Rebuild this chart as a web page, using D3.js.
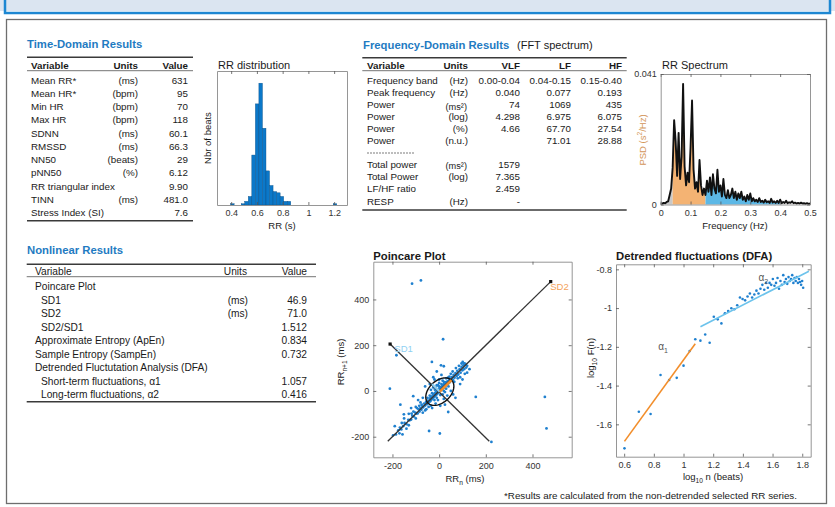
<!DOCTYPE html>
<html>
<head>
<meta charset="utf-8">
<script src="https://cdn.jsdelivr.net/npm/d3@7"></script>
<style>
body { margin: 0; background: #fff; }
svg { display: block; font-family: "Liberation Sans", Arial, sans-serif; }
</style>
</head>
<body>
<svg id="chart" width="835" height="507"></svg>
<script>
// ---- time domain table
var timeVars = ["Mean RR*", "Mean HR*", "Min HR", "Max HR", "SDNN", "RMSSD", "NN50", "pNN50", "RR triangular index", "TINN", "Stress Index (SI)"];
var timeUnits = ["(ms)", "(bpm)", "(bpm)", "(bpm)", "(ms)", "(ms)", "(beats)", "(%)", "", "(ms)", ""];
var timeValues = ["631", "95", "70", "118", "60.1", "66.3", "29", "6.12", "9.90", "481.0", "7.6"];

// ---- frequency domain table
var freqVars = ["Frequency band", "Peak frequency", "Power", "Power", "Power", "Power"];
var freqUnits = ["(Hz)", "(Hz)", "(ms\u00b2)", "(log)", "(%)", "(n.u.)"];
var vlfValues = ["0.00-0.04", "0.040", "74", "4.298", "4.66", ""];
var lfValues = ["0.04-0.15", "0.077", "1069", "6.975", "67.70", "71.01"];
var hfValues = ["0.15-0.40", "0.193", "435", "6.075", "27.54", "28.88"];
var totVars = ["Total power", "Total Power", "LF/HF ratio", "RESP"];
var totUnits = ["(ms\u00b2)", "(log)", "", "(Hz)"];
var totValues = ["1579", "7.365", "2.459", "-"];

// ---- nonlinear table
var nlVars = ["Poincare Plot", "SD1", "SD2", "SD2/SD1", "Approximate Entropy (ApEn)", "Sample Entropy (SampEn)",
	"Detrended Fluctutation Analysis (DFA)", "Short-term fluctuations, \u03b11", "Long-term fluctuations, \u03b12"];
var nlSub = [false, true, true, true, false, false, false, true, true];
var nlUnits = ["", "(ms)", "(ms)", "", "", "", "", "", ""];
var nlValues = ["", "46.9", "71.0", "1.512", "0.834", "0.732", "", "1.057", "0.416"];

// ---- RR histogram (bin left edge in s, count)
var rrBinWidth = 0.0275;
var rrBinLeft = [0.3955, 0.478, 0.5055, 0.533, 0.5605, 0.588, 0.6155, 0.643, 0.6705, 0.698, 0.7255, 0.753, 0.7805, 0.808, 0.8355, 1.193];
var rrBinCount = [1, 1, 3, 7, 41, 83, 100, 63, 28, 16, 11, 10, 7, 3, 3, 1];
var rrTicks = [0.4, 0.6, 0.8, 1, 1.2];

// ---- RR spectrum, PSD (s^2/Hz) sampled every 0.005 Hz from 0 to 0.5
var psdStep = 0.005;
var psdValues = [
	0.0003, 0.0003, 0.0005, 0.0004, 0.0008, 0.0010, 0.0030, 0.0050, 0.0115, 0.0265,
	0.0200, 0.0090, 0.0225, 0.0080, 0.0150, 0.0379, 0.0120, 0.0060, 0.0100, 0.0070,
	0.0180, 0.0327, 0.0110, 0.0050, 0.0070, 0.0040, 0.0140, 0.0060, 0.0030, 0.0050,
	0.0030, 0.0075, 0.0040, 0.0085, 0.0030, 0.0095, 0.0050, 0.0035, 0.0109, 0.0040,
	0.0060, 0.0025, 0.0080, 0.0030, 0.0020, 0.0045, 0.0020, 0.0030, 0.0050, 0.0020,
	0.0040, 0.0015, 0.0035, 0.0020, 0.0040, 0.0015, 0.0025, 0.0010, 0.0030, 0.0015,
	0.0035, 0.0010, 0.0020, 0.0010, 0.0015, 0.0008, 0.0020, 0.0008, 0.0012, 0.0006,
	0.0015, 0.0007, 0.0010, 0.0005, 0.0018, 0.0006, 0.0010, 0.0005, 0.0012, 0.0005,
	0.0015, 0.0004, 0.0008, 0.0005, 0.0012, 0.0004, 0.0007, 0.0005, 0.0010, 0.0004,
	0.0006, 0.0003, 0.0005, 0.0003, 0.0006, 0.0003, 0.0004, 0.0002, 0.0004, 0.0002,
	0.0003];
var bandNames = ["VLF", "LF", "HF"];
var bandLo = [0, 0.04, 0.15];
var bandHi = [0.04, 0.15, 0.40];
var specXTicks = [0, 0.1, 0.2, 0.3, 0.4, 0.5];
var specYTicks = [0, 0.041];

// ---- Poincare (RRn, RRn+1) in ms, centred
var poincarePts = [
	[-48,-42],[-44,-50],[-40,-34],[-38,-45],[-35,-28],[-33,-38],[-30,-24],[-28,-33],[-25,-18],[-24,-29],
	[-22,-14],[-20,-24],[-18,-10],[-16,-21],[-14,-6],[-12,-17],[-10,-2],[-8,-12],[-6,4],[-4,-8],
	[-2,8],[0,-3],[2,12],[4,2],[6,15],[8,5],[10,18],[12,8],[14,22],[16,12],[18,26],[20,15],[22,30],
	[24,20],[26,34],[28,24],[30,38],[33,28],[36,42],[39,33],[42,46],[45,38],[48,52],[52,45],
	[-52,-58],[-56,-48],[-60,-64],[-64,-55],[-20,-40],[-40,-20],[20,40],[40,20],[0,20],[20,0],
	[-10,-30],[-30,-10],[10,30],[30,10],[5,-18],[-18,5],[-5,25],[25,-5],
	[-68,-72],[-72,-66],[-76,-82],[-80,-75],[-84,-90],[-88,-80],[-92,-98],[-97,-99],[-102,-95],
	[-108,-112],[-115,-108],[-120,-125],[-126,-128],[-132,-126],[-140,-145],[-148,-140],[-154,-154],
	[-162,-168],[-168,-160],[-175,-172],[-185,-190],[-197,-194],[-60,-85],[-75,-60],[-85,-65],
	[-95,-75],[-55,-80],[-70,-95],[-110,-90],[-100,-120],[-45,-70],[-35,-65],[-130,-100],
	[55,60],[60,48],[62,70],[66,58],[70,78],[75,65],[78,88],[82,72],[88,95],[92,80],[96,105],
	[100,90],[104,112],[108,96],[112,118],[116,102],[120,110],[96,120],[85,110],[72,100],[58,85],
	[50,75],[44,62],[38,58],[65,40],[80,55],[110,75],[90,60],[30,55],[15,45],[0,35],[-10,25],
	[-25,15],[-35,5],
	[-40,30],[-60,20],[-20,50],[10,70],[-10,85],[50,0],[60,-15],[35,-20],[20,-35],[-5,-40],
	[-15,-55],[5,-65],[25,-60],[-30,-75],[-50,-30],[-70,-30],[-80,-50],[-90,-40],[-100,-70],
	[-120,-75],[-130,-150],[-150,-120],[-160,-140],[-170,-185],[-140,-165],[70,-30],[90,30],
	[100,50],[130,95],[120,80],[-25,60],[0,50],[15,-15],[-15,15],
	[-31,127],[8,112],[20,108],[101,127],[108,120],[-118,-99],
	[-116,469],[-78,483],[17,226],[-183,156],[-211,10],[-111,-23],[157,-26],[453,-26],[460,-164],
	[-166,-60],[-151,-102],[-43,-175],[3,-186],[224,-223],[-157,-190],[-190,-154],[39,-92]
];
var sd1 = 46.9, sd2 = 71.0;
var poincareCentre = [3, -3];
var identityLine = [[-220, -220], [478, 478]];
var perpLine = [[-210, 205], [215, -220]];
var poincareTicks = [-200, 0, 200, 400];

// ---- DFA
var dfaN = [4, 5, 6, 7, 8, 9, 10, 11, 12, 13, 14, 15, 16, 17, 18, 19, 20, 21, 22, 23, 24, 25, 26, 27, 28, 29, 30,
	31, 32, 33, 34, 35, 36, 37, 38, 39, 40, 41, 42, 43, 44, 45, 46, 47, 48, 49, 50, 51, 52, 53, 54, 55, 56, 57,
	58, 59, 60, 61, 62, 63, 64];
var dfaF = [-1.724, -1.535, -1.547, -1.345, -1.371, -1.360, -1.297, -1.222, -1.161, -1.168, -1.136, -1.179,
	-1.045, -1.058, -1.079, -1.027, -1.015, -1.001, -1.006, -0.985, -0.945, -0.953, -0.960, -0.940, -0.925,
	-0.945, -0.930, -0.910, -0.925, -0.900, -0.880, -0.905, -0.870, -0.895, -0.870, -0.880, -0.850, -0.885,
	-0.870, -0.845, -0.900, -0.860, -0.880, -0.830, -0.865, -0.850, -0.875, -0.840, -0.860, -0.850, -0.830,
	-0.870, -0.845, -0.860, -0.840, -0.870, -0.850, -0.865, -0.880, -0.860, -0.895];
var alpha1Fit = [[0.602, -1.688], [1.079, -1.184]];
var alpha2Fit = [[1.114, -1.096], [1.845, -0.810]];
var dfaXTicks = [0.6, 0.8, 1, 1.2, 1.4, 1.6, 1.8];
var dfaYTicks = [-1.6, -1.4, -1.2, -1, -0.8];

var footnote = "*Results are calculated from the non-detrended selected RR series.";

// ------------------------------------------------------------------
var svg = d3.select("#chart");
var titleBlue = "#1f7bc2", ink = "#1a1a1a";
var tableSize = 9.8, titleSize = 11.3, tickSize = 9;

function txt(g, x, y, s, o) {
	o = o || {};
	return g.append("text").attr("x", x).attr("y", y)
		.attr("font-size", o.size || tableSize)
		.attr("font-weight", o.bold ? "bold" : null)
		.attr("text-anchor", o.anchor || "start")
		.attr("fill", o.color || ink)
		.text(s);
}

// text with sub/superscript pieces: parts = [[str, "sub"|"sup"|null], ...]
function rich(g, x, y, parts, o) {
	o = o || {};
	var size = o.size || 9.5;
	var t = g.append("text").attr("font-size", size).attr("fill", o.color || ink)
		.attr("text-anchor", o.anchor || "middle");
	if (o.rotate) t.attr("transform", "translate(" + x + "," + y + ") rotate(-90)");
	else t.attr("x", x).attr("y", y);
	var shift = 0;
	parts.forEach(function(p) {
		var want = p[1] === "sub" ? size * 0.3 : p[1] === "sup" ? -size * 0.4 : 0;
		t.append("tspan").attr("dy", want - shift)
			.attr("font-size", p[1] ? size * 0.7 : size).text(p[0]);
		shift = want;
	});
	return t;
}

function rule(g, x0, x1, y, w) {
	g.append("line").attr("x1", x0).attr("x2", x1).attr("y1", y).attr("y2", y)
		.attr("stroke", "#3a3a3a").attr("stroke-width", w);
}

// matlab-like box axes, ticks inward on all sides
function boxAxes(g, x, y, xTicks, yTicks) {
	var xr = x.range(), yr = y.range();
	var fmt = function(d) { return String(d); };
	var bottom = g.append("g").attr("transform", "translate(0," + yr[0] + ")")
		.call(d3.axisBottom(x).tickValues(xTicks).tickSize(-3).tickSizeOuter(0).tickPadding(5).tickFormat(fmt));
	var top = g.append("g").attr("transform", "translate(0," + yr[1] + ")")
		.call(d3.axisTop(x).tickValues(xTicks).tickSize(-3).tickSizeOuter(0).tickFormat(""));
	var left = g.append("g").attr("transform", "translate(" + xr[0] + ",0)")
		.call(d3.axisLeft(y).tickValues(yTicks).tickSize(-3).tickSizeOuter(0).tickPadding(4).tickFormat(fmt));
	var right = g.append("g").attr("transform", "translate(" + xr[1] + ",0)")
		.call(d3.axisRight(y).tickValues(yTicks).tickSize(-3).tickSizeOuter(0).tickFormat(""));
	[bottom, top, left, right].forEach(function(a) {
		a.attr("font-family", null).attr("font-size", tickSize);
		a.select(".domain").attr("stroke", "#8a8a8a").attr("stroke-width", 0.9);
		a.selectAll(".tick line").attr("stroke", "#555").attr("stroke-width", 0.8);
		a.selectAll(".tick text").attr("fill", "#333");
	});
}

// ---- page frame
svg.append("rect").attr("width", 835).attr("height", 507).attr("fill", "#fff");
svg.append("rect").attr("width", 835).attr("height", 11).attr("fill", "#dbe5f1");
svg.append("path").attr("d", "M5,0V13H830V0").attr("fill", "none")
	.attr("stroke", "#1d87d2").attr("stroke-width", 2.5);
svg.append("rect").attr("x", 6.5).attr("y", 19.5).attr("width", 820).attr("height", 484)
	.attr("fill", "#fff").attr("stroke", "#6e6e6e").attr("stroke-width", 1.3);

// ---- time domain table
var tg = svg.append("g");
txt(tg, 27, 48, "Time-Domain Results", {bold: true, size: titleSize, color: titleBlue});
rule(tg, 27, 193, 57.3, 1.6);
rule(tg, 27, 193, 70.7, 0.7);
rule(tg, 27, 193, 220.7, 1.6);
txt(tg, 31, 68.6, "Variable", {bold: true});
txt(tg, 138, 68.6, "Units", {bold: true, anchor: "end"});
txt(tg, 188, 68.6, "Value", {bold: true, anchor: "end"});
timeVars.forEach(function(v, i) {
	var y = 83.5 + i * 13.27;
	txt(tg, 31, y, v);
	txt(tg, 138, y, timeUnits[i], {anchor: "end"});
	txt(tg, 188, y, timeValues[i], {anchor: "end"});
});

// ---- RR distribution histogram
var hg = svg.append("g");
var hx = d3.scaleLinear().domain([0.29, 1.30]).range([217, 347]);
var hy = d3.scaleLinear().domain([0, 110]).range([205, 71]);
hg.selectAll(".bar").data(rrBinLeft).enter().append("rect")
	.attr("x", function(d) { return hx(d); })
	.attr("width", function(d) { return hx(d + rrBinWidth) - hx(d); })
	.attr("y", function(d, i) { return hy(rrBinCount[i]); })
	.attr("height", function(d, i) { return hy(0) - hy(rrBinCount[i]); })
	.attr("fill", "#0b78c9").attr("stroke", "#0a4f86").attr("stroke-width", 0.4);
boxAxes(hg, hx, hy, rrTicks, []);
txt(hg, 218, 68.8, "RR distribution", {size: 11});
txt(hg, 282, 228.5, "RR (s)", {anchor: "middle", size: 9.5});
rich(hg, 211, 138, [["Nbr of beats"]], {rotate: true});

// ---- frequency domain table
var fg = svg.append("g");
txt(fg, 363, 48.5, "Frequency-Domain Results", {bold: true, size: titleSize, color: titleBlue});
txt(fg, 517, 48.5, "(FFT spectrum)", {size: 11});
rule(fg, 362.3, 626.7, 57.7, 1.6);
rule(fg, 362.3, 626.7, 70.7, 0.7);
rule(fg, 362.3, 626.7, 210, 1.6);
txt(fg, 367, 69.2, "Variable", {bold: true});
txt(fg, 468, 69.2, "Units", {bold: true, anchor: "end"});
txt(fg, 520, 69.2, "VLF", {bold: true, anchor: "end"});
txt(fg, 571, 69.2, "LF", {bold: true, anchor: "end"});
txt(fg, 622, 69.2, "HF", {bold: true, anchor: "end"});
freqVars.forEach(function(v, i) {
	var y = 84.1 + i * 12.05;
	txt(fg, 367, y, v);
	var sq = freqUnits[i].indexOf("\u00b2") >= 0;
	txt(fg, sq ? 467 : 468, sq ? y + 1.5 : y, freqUnits[i], {anchor: "end", size: sq ? 9.2 : tableSize});
	txt(fg, 520, y, vlfValues[i], {anchor: "end"});
	txt(fg, 571, y, lfValues[i], {anchor: "end"});
	txt(fg, 622, y, hfValues[i], {anchor: "end"});
});
fg.append("line").attr("x1", 367).attr("x2", 415).attr("y1", 153).attr("y2", 153)
	.attr("stroke", "#444").attr("stroke-width", 0.7).attr("stroke-dasharray", "2,1");
totVars.forEach(function(v, i) {
	var y = 168 + i * 12.2;
	txt(fg, 367, y, v);
	var sq = totUnits[i].indexOf("\u00b2") >= 0;
	txt(fg, sq ? 467 : 468, sq ? y + 1.2 : y, totUnits[i], {anchor: "end", size: sq ? 9.2 : tableSize});
	txt(fg, 520, y, totValues[i], {anchor: "end"});
});

// ---- RR spectrum
var sg = svg.append("g");
var sx = d3.scaleLinear().domain([0, 0.5]).range([660.7, 810]);
var sy = d3.scaleLinear().domain([0, 0.041]).range([204.5, 74]);
var spec = psdValues.map(function(p, i) { return {f: i * psdStep, p: p}; });
var area = d3.area().x(function(d) { return sx(d.f); }).y0(sy(0)).y1(function(d) { return sy(d.p); });
var bandColors = {VLF: "#c9c9c9", LF: "#f4b373", HF: "#5cb8e6"};
bandNames.forEach(function(b, i) {
	var pts = spec.filter(function(d) { return d.f >= bandLo[i] - 1e-9 && d.f <= bandHi[i] + 1e-9; });
	sg.append("path").datum(pts).attr("d", area).attr("fill", bandColors[b]);
});
sg.append("path").datum(spec)
	.attr("d", d3.line().x(function(d) { return sx(d.f); }).y(function(d) { return sy(d.p); }))
	.attr("fill", "none").attr("stroke", "#111").attr("stroke-width", 1.9).attr("stroke-linejoin", "round");
boxAxes(sg, sx, sy, specXTicks, specYTicks);
txt(sg, 662, 68.8, "RR Spectrum", {size: 11});
txt(sg, 735, 228.5, "Frequency (Hz)", {anchor: "middle", size: 9.5});
rich(sg, 646, 140, [["PSD (s"], ["2", "sup"], ["/Hz)"]], {rotate: true, color: "#d3955a"});

// ---- nonlinear table
var ng = svg.append("g");
txt(ng, 27, 254, "Nonlinear Results", {bold: true, size: titleSize, color: titleBlue});
rule(ng, 26.7, 316, 264.3, 1.6);
rule(ng, 26.7, 316, 276.7, 0.7);
rule(ng, 26.7, 316, 401.7, 1.6);
txt(ng, 35, 274.6, "Variable", {size: 10.2});
txt(ng, 247, 274.6, "Units", {anchor: "end", size: 10.2});
txt(ng, 307, 274.6, "Value", {anchor: "end", size: 10.2});
nlVars.forEach(function(v, i) {
	var y = 290.4 + i * 13.45;
	txt(ng, nlSub[i] ? 41 : 35, y, v, {size: 10.2});
	txt(ng, 248, y, nlUnits[i], {anchor: "end", size: 10.2});
	txt(ng, 307, y, nlValues[i], {anchor: "end", size: 10.2});
});

// ---- Poincare plot
var pg = svg.append("g");
var px = d3.scaleLinear().domain([-282, 568]).range([373.3, 571.7]);
var py = d3.scaleLinear().domain([-290, 565]).range([457.3, 261.7]);
var lineGen = d3.line().x(function(d) { return px(d[0]); }).y(function(d) { return py(d[1]); });
pg.selectAll(".pt").data(poincarePts).enter().append("circle")
	.attr("cx", function(d) { return px(d[0]); }).attr("cy", function(d) { return py(d[1]); })
	.attr("r", 1.4).attr("fill", "#1f80cf");
[identityLine, perpLine].forEach(function(l) {
	pg.append("path").datum(l).attr("d", lineGen).attr("stroke", "#333").attr("stroke-width", 1.3).attr("fill", "none");
});
[identityLine[1], perpLine[0]].forEach(function(p) {
	pg.append("rect").attr("x", px(p[0]) - 1.6).attr("y", py(p[1]) - 1.6).attr("width", 3.2).attr("height", 3.2).attr("fill", "#111");
});
var ell = d3.range(0, 73).map(function(k) {
	var t = k / 72 * 2 * Math.PI, u = Math.SQRT1_2;
	var a = sd2 * Math.cos(t), b = sd1 * Math.sin(t);
	return [poincareCentre[0] + a * u - b * u, poincareCentre[1] + a * u + b * u];
});
pg.append("path").datum(ell).attr("d", lineGen).attr("fill", "none").attr("stroke", "#111").attr("stroke-width", 1.4);
var c = poincareCentre, u2 = Math.SQRT1_2;
pg.append("path").datum([c, [c[0] - sd1 * u2, c[1] + sd1 * u2]]).attr("d", lineGen)
	.attr("stroke", "#8fd0f2").attr("stroke-width", 2.2);
pg.append("path").datum([c, [c[0] + sd2 * u2, c[1] + sd2 * u2]]).attr("d", lineGen)
	.attr("stroke", "#f28e2b").attr("stroke-width", 2.6);
txt(pg, px(-192), py(172), "SD1", {size: 9.5, color: "#8fd0f2"});
txt(pg, px(476), py(442), "SD2", {size: 9.5, color: "#f4a259"});
boxAxes(pg, px, py, poincareTicks, poincareTicks);
txt(pg, 373.3, 260, "Poincare Plot", {bold: true, size: titleSize});
rich(pg, 465, 482, [["RR"], ["n", "sub"], [" (ms)"]]);
rich(pg, 344, 362, [["RR"], ["n+1", "sub"], [" (ms)"]], {rotate: true});

// ---- DFA
var dg = svg.append("g");
var dx = d3.scaleLinear().domain([0.545, 1.857]).range([616, 810.7]);
var dy = d3.scaleLinear().domain([-1.767, -0.774]).range([456.7, 264.3]);
var dLine = d3.line().x(function(d) { return dx(d[0]); }).y(function(d) { return dy(d[1]); });
dg.selectAll(".pt").data(dfaN).enter().append("circle")
	.attr("cx", function(n) { return dx(Math.log10(n)); })
	.attr("cy", function(n, i) { return dy(dfaF[i]); })
	.attr("r", 1.3).attr("fill", "#1f80cf");
dg.append("path").datum(alpha1Fit).attr("d", dLine).attr("stroke", "#f28e2b").attr("stroke-width", 1.6);
dg.append("path").datum(alpha2Fit).attr("d", dLine).attr("stroke", "#6cc3ec").attr("stroke-width", 1.6);
rich(dg, dx(0.83), dy(-1.215), [["\u03b1"], ["1", "sub"]], {anchor: "start", size: 10, color: "#555"});
rich(dg, dx(1.505), dy(-0.862), [["\u03b1"], ["2", "sub"]], {anchor: "start", size: 10, color: "#555"});
boxAxes(dg, dx, dy, dfaXTicks, dfaYTicks);
txt(dg, 616, 260, "Detrended fluctuations (DFA)", {bold: true, size: titleSize});
rich(dg, 713, 480, [["log"], ["10", "sub"], [" n (beats)"]]);
rich(dg, 594, 358, [["log"], ["10", "sub"], [" F(n)"]], {rotate: true});

txt(svg, 797, 498.5, footnote, {anchor: "end", size: 9.8});
</script>
</body>
</html>
